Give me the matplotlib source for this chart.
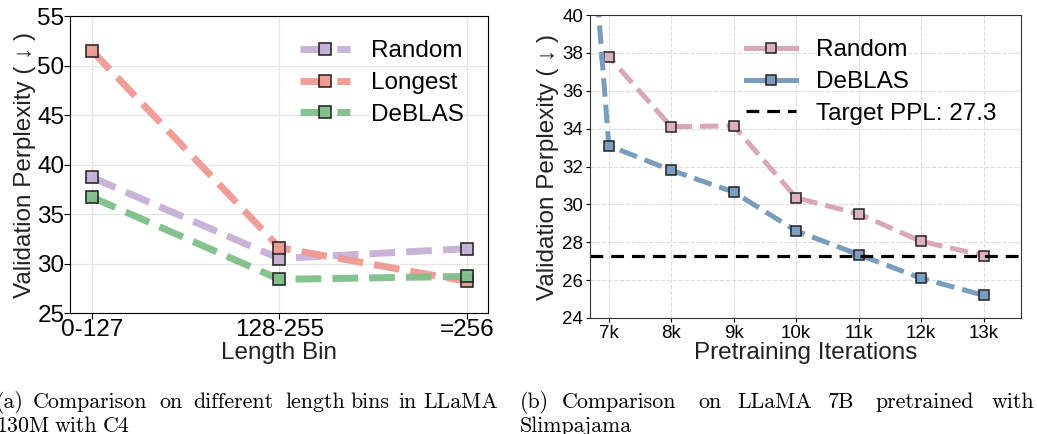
import matplotlib
matplotlib.use("Agg")
import matplotlib.pyplot as plt
from matplotlib.lines import Line2D

# left panel: perplexity per length bin (LLaMA 130M, C4)
bins = ["0-127", "128-255", "=256"]
random_bins = [38.7, 30.5, 31.5]
longest_bins = [51.5, 31.6, 28.2]
deblas_bins = [36.7, 28.4, 28.7]

# right panel: perplexity vs pretraining iterations (LLaMA 7B, Slimpajama)
iters = [6, 7, 8, 9, 10, 11, 12, 13]
iter_labels = ["7k", "8k", "9k", "10k", "11k", "12k", "13k"]
random_iters = [37.4, 37.8, 34.1, 34.15, 30.35, 29.5, 28.05, 27.3]
deblas_iters = [76.0, 33.1, 31.8, 30.65, 28.6, 27.35, 26.1, 25.2]
target_ppl = 27.3

plt.rcParams["font.family"] = ["Liberation Sans", "DejaVu Sans"]
FS = 17.5

fig = plt.figure(figsize=(10.37, 4.34), dpi=100)
ax1 = fig.add_axes([0.0675, 0.2788, 0.4031, 0.6842])
ax2 = fig.add_axes([0.569, 0.2673, 0.4156, 0.6981])

# ---- left
styles = [("Random", random_bins, "#c5b0d6"),
          ("Longest", longest_bins, "#ef9a93"),
          ("DeBLAS", deblas_bins, "#7fbf89")]
xs = list(range(len(bins)))
for name, vals, col in styles:
    ax1.plot(xs, vals, linestyle="--", lw=5, color=col, alpha=0.95,
             marker="s", ms=8, mfc=col, mec="#222222", mew=1.2, label=name)
ax1.set_xlim(-0.117, 2.112)
ax1.set_ylim(25, 55)
ax1.set_xticks(xs)
ax1.set_xticklabels(bins)
ax1.set_yticks(range(25, 56, 5))
ax1.tick_params(labelsize=FS, length=4, pad=0)
ax1.grid(True, color="#e6e6e6", lw=1)
ax1.set_axisbelow(True)
ax1.set_xlabel("Length Bin", fontsize=FS, color="#222222", labelpad=1)
ax1.set_ylabel("Validation Perplexity ( ↓ )", fontsize=FS, color="#222222",
               family=["Liberation Sans", "DejaVu Sans"], labelpad=1)
ax1.legend(loc="upper right", fontsize=FS, frameon=False, handlelength=2.05,
           handletextpad=0.85, labelspacing=0.4, borderaxespad=0.6)

# ---- right
ax2.plot(iters, random_iters, linestyle="--", lw=3.6, color="#d8a8b7",
         marker="s", ms=7.5, mfc="#dcb0bf", mec="#222222", mew=1.1)
ax2.plot(iters, deblas_iters, linestyle="--", lw=3.6, color="#7a9cbd",
         marker="s", ms=7.5, mfc="#7b9ec0", mec="#222222", mew=1.1)
ax2.axhline(target_ppl, color="black", lw=2.3, linestyle=(0, (4, 2.5)))
ax2.set_xlim(6.7, 13.6)
ax2.set_ylim(24, 40)
ax2.set_xticks(iters[1:])
ax2.set_xticklabels(iter_labels)
ax2.set_yticks(range(24, 41, 2))
ax2.tick_params(labelsize=13.5, length=3, pad=2)
ax2.grid(True, color="#dddddd", lw=0.8, linestyle="--")
ax2.set_axisbelow(True)
for s in ax2.spines.values():
    s.set_color("#333333")
ax2.set_xlabel("Pretraining Iterations", fontsize=FS, color="#222222", labelpad=0)
ax2.set_ylabel("Validation Perplexity ( ↓ )", fontsize=FS, color="#222222",
               family=["Liberation Sans", "DejaVu Sans"], labelpad=2)
handles = [Line2D([], [], color="#d8a8b7", lw=3.6, marker="s", ms=7.5,
                  mfc="#dcb0bf", mec="#222222", mew=1.1),
           Line2D([], [], color="#7a9cbd", lw=3.6, marker="s", ms=7.5,
                  mfc="#7b9ec0", mec="#222222", mew=1.1),
           Line2D([], [], color="black", lw=2.3, linestyle=(0, (4, 2.5)))]
ax2.legend(handles, ["Random", "DeBLAS", "Target PPL: 27.3"], loc="upper right",
           fontsize=FS, frameon=False, handlelength=2.05, handletextpad=0.85,
           labelspacing=0.4, borderaxespad=0.6)

# ---- captions (justified by hand, word by word)
cap_font = dict(family="cmr10", fontsize=15.8, va="baseline", ha="left")
W, H = 1037, 434
cap_a1 = [("(a)", -4), ("Comparison", 33), ("on", 159), ("different", 193),
          ("length", 285), ("bins", 350), ("in", 398), ("LLaMA", 423)]
cap_a2 = [("130M", -4), ("with", 55), ("C4", 103)]
cap_b1 = [("(b)", 520), ("Comparison", 562), ("on", 698), ("LLaMA", 737),
          ("7B", 828), ("pretrained", 875), ("with", 992)]
cap_b2 = [("Slimpajama", 520)]
for words, ypix in [(cap_a1, 408), (cap_a2, 432), (cap_b1, 408), (cap_b2, 432)]:
    for w, xpix in words:
        fig.text(xpix / W, 1 - ypix / H, w, **cap_font)

fig.savefig("out.png", dpi=100)
